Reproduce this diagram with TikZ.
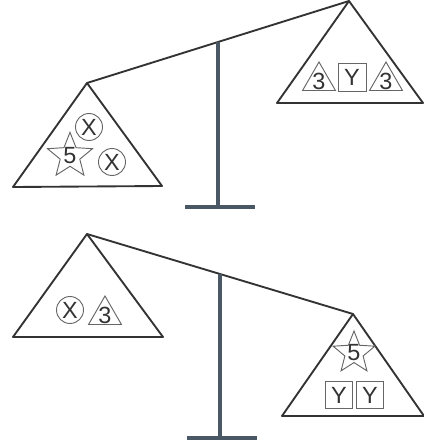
\documentclass[tikz,border=0pt]{standalone}
\usepackage{fontspec}
\setmainfont{Liberation Sans}
\usetikzlibrary{shapes.geometric}
\definecolor{slate}{HTML}{4A5866}
\definecolor{ink}{HTML}{333333}
\begin{document}
\begin{tikzpicture}[x=0.03cm, y=-0.03cm,
  pan/.style={draw=ink, line width=1.6pt, line join=round},
  stand/.style={draw=slate, line width=3pt},
  lbl/.style={text=ink, inner sep=0pt, font=\fontsize{20}{20}\selectfont},
  token/.style={draw=black!60, line width=0.8pt, inner sep=0pt,
    label={[lbl]center:#1}},
  ball/.style={token=#1, circle, minimum size=0.81cm},
  box/.style={token=#1, rectangle, minimum size=0.84cm},
  tri/.style={token=#1, regular polygon, regular polygon sides=3, minimum size=1.14cm},
  starry/.style={token=#1, star, star points=5, star point ratio=2.3}]
  \useasboundingbox (0,0) rectangle (424,445);

  % Top balance
  \coordinate (L1) at (87,83);
  \coordinate (R1) at (349,1);
  \coordinate (P1) at (218,42);
  \coordinate (F1) at (218,207);
  \draw[pan] (L1) -- (R1);
  \draw[pan] (L1) -- (13,187) -- (162,186) -- cycle;
  \draw[pan] (R1) -- (277,103) -- (423,103) -- cycle;
  \draw[stand] (P1) -- (F1);
  \draw[stand] (185,207) -- (255,207);

  \node[ball=X] (x1) at (89,127) {};
  \node[ball=X] (x2) at (112,162) {};
  \node[starry=5, minimum size=1.42cm] (s1) at (70,156) {};
  \node[tri=3] (t1) at (319,81) {};
  \node[box=Y] (y1) at (352,77) {};
  \node[tri=3] (t2) at (386,81) {};

  % Bottom balance
  \coordinate (L2) at (87,234);
  \coordinate (R2) at (353,314);
  \coordinate (P2) at (220,274);
  \coordinate (F2) at (220,438);
  \draw[pan] (L2) -- (R2);
  \draw[pan] (L2) -- (13,337) -- (163,337) -- cycle;
  \draw[pan] (R2) -- (282,416) -- (424,416) -- cycle;
  \draw[stand] (P2) -- (F2);
  \draw[stand] (187,438) -- (257,438);

  \node[ball=X] (x3) at (70,310) {};
  \node[tri=3] (t3) at (105,315) {};
  \node[starry=5, minimum size=1.32cm] (s2) at (354,353) {};
  \node[box=Y, minimum size=0.82cm] (y2) at (339,395) {};
  \node[box=Y, minimum size=0.82cm] (y3) at (370,395) {};
\end{tikzpicture}
\end{document}
